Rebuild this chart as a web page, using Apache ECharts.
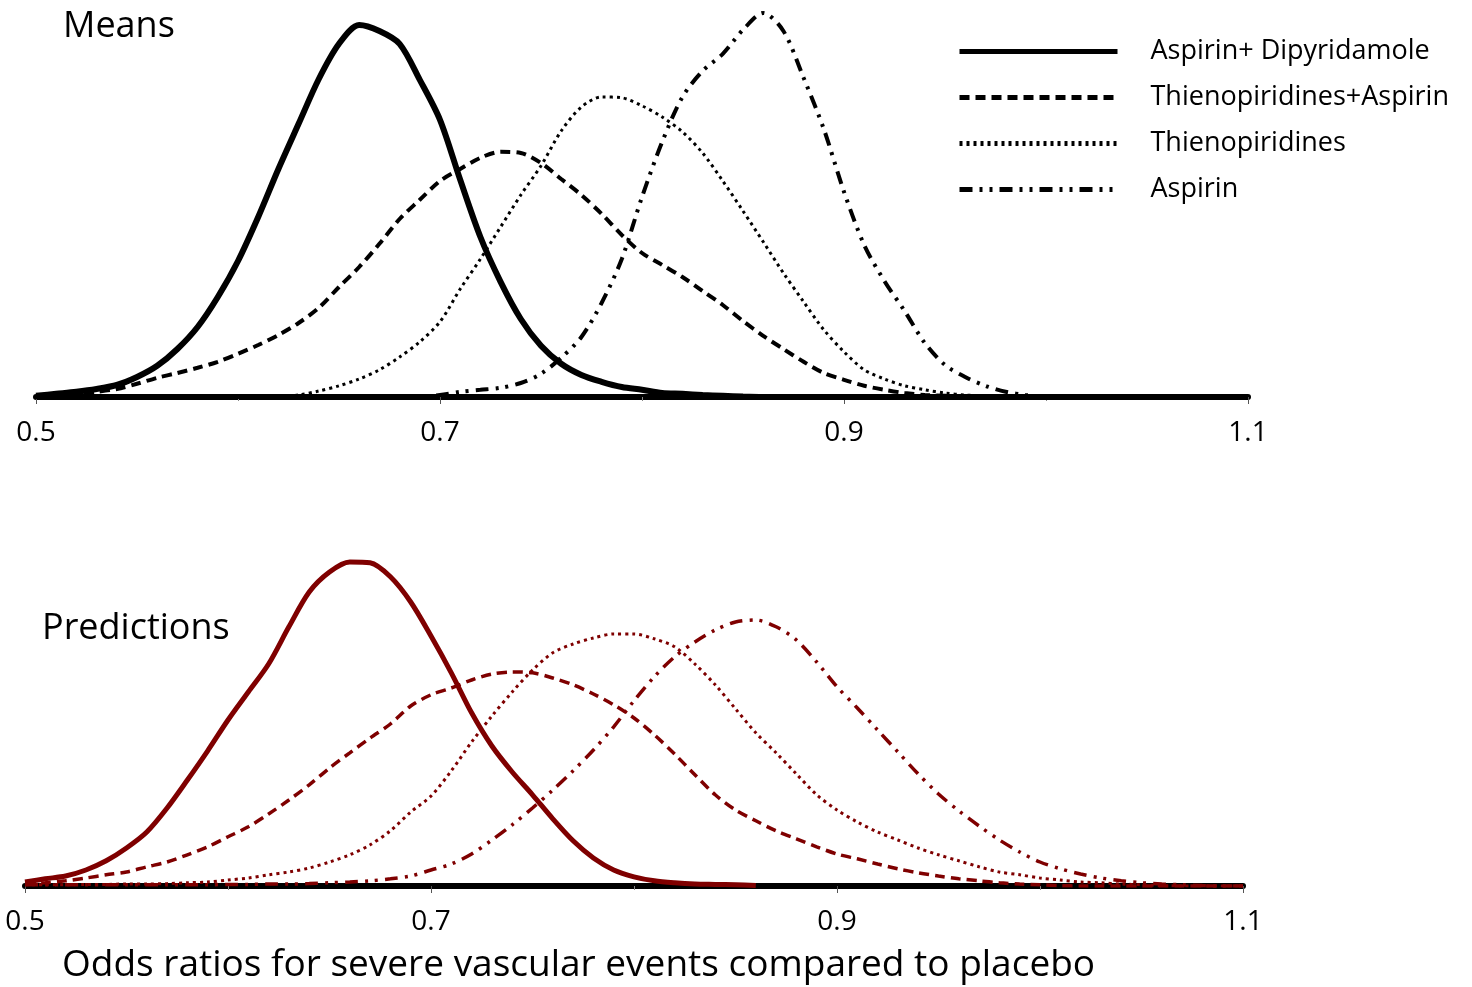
<!DOCTYPE html>
<html>
<head>
<meta charset="utf-8">
<script src="https://cdn.jsdelivr.net/npm/echarts@6/dist/echarts.min.js"></script>
<style>
  html, body { margin: 0; padding: 0; background: #fff; }
  #chart { width: 1472px; height: 987px; }
</style>
</head>
<body>
<div id="chart"></div>
<script>
// odds ratio grid, 0.50 .. 1.10 in steps of 0.01
var oddsRatio = Array.from({ length: 61 }, function (_, i) { return +(0.5 + i * 0.01).toFixed(2); });
var tickLabels = ['0.5', '0.7', '0.9', '1.1'];
var names = ['Aspirin+ Dipyridamole', 'Thienopiridines+Aspirin', 'Thienopiridines', 'Aspirin'];

// Means panel (density)
var meanAspDip = [0.03, 0.08, 0.13, 0.2, 0.3, 0.5, 0.78, 1.2, 1.75, 2.5, 3.4, 4.5, 5.7, 6.83, 7.95, 8.83, 9.3, 9.15, 8.83, 7.93,
  6.93, 5.43, 4.0, 2.88, 1.95, 1.28, 0.83, 0.55, 0.38, 0.25, 0.18, 0.1, 0.08, 0.05, 0.03, 0.01,
  0, 0, 0, 0, 0, 0, 0, 0, 0, 0, 0, 0, 0, 0, 0, 0, 0, 0, 0, 0, 0, 0, 0, 0, 0];
var meanThienAsp = [0.03, 0.05, 0.08, 0.13, 0.2, 0.33, 0.48, 0.6, 0.73, 0.88, 1.08, 1.3, 1.55, 1.85, 2.23, 2.75, 3.25, 3.83, 4.45, 4.93,
  5.4, 5.7, 5.98, 6.13, 6.1, 5.85, 5.45, 5.05, 4.58, 4.05, 3.6, 3.3, 3.0, 2.65, 2.3, 1.9, 1.53, 1.2, 0.88, 0.6,
  0.43, 0.28, 0.18, 0.1, 0.05, 0.03, 0.01, 0, 0, 0, 0, 0, 0, 0, 0, 0, 0, 0, 0, 0, 0];
var meanThien = [0, 0, 0, 0, 0, 0, 0, 0, 0, 0, 0, 0, 0,
  0.05, 0.15, 0.28, 0.45, 0.68, 1.0, 1.38, 1.88, 2.7, 3.45, 4.25, 5.05, 5.78, 6.65, 7.25, 7.5, 7.48, 7.28, 7.0, 6.63, 6.1, 5.4,
  4.65, 3.88, 3.1, 2.38, 1.68, 1.13, 0.68, 0.45, 0.28, 0.18, 0.1, 0.05, 0.03,
  0, 0, 0, 0, 0, 0, 0, 0, 0, 0, 0, 0, 0];
var meanAsp = [0, 0, 0, 0, 0, 0, 0, 0, 0, 0, 0, 0, 0, 0, 0, 0, 0, 0, 0,
  0.01, 0.05, 0.13, 0.18, 0.23, 0.35, 0.58, 0.98, 1.5, 2.35, 3.45, 5.0, 6.38, 7.5, 8.15, 8.58, 9.18, 9.6, 9.15, 7.98, 6.7,
  5.13, 3.8, 2.9, 2.15, 1.35, 0.8, 0.5, 0.28, 0.13, 0.05, 0.01,
  0, 0, 0, 0, 0, 0, 0, 0, 0, 0];

// Predictions panel
var predAspDip = [0.1, 0.18, 0.25, 0.4, 0.63, 0.95, 1.35, 1.95, 2.65, 3.38, 4.15, 4.85, 5.55, 6.48, 7.35, 7.85, 8.1, 8.08, 7.73, 7.1,
  6.25, 5.33, 4.33, 3.5, 2.85, 2.28, 1.68, 1.13, 0.7, 0.4, 0.23, 0.13, 0.08, 0.05, 0.04, 0.03, 0.01];
var predThienAsp = [0.05, 0.08, 0.13, 0.2, 0.28, 0.35, 0.48, 0.6, 0.78, 0.98, 1.23, 1.48, 1.8, 2.15, 2.53, 2.95, 3.33, 3.7, 4.05, 4.5,
  4.78, 4.95, 5.15, 5.3, 5.35, 5.33, 5.2, 5.03, 4.8, 4.53, 4.2, 3.78, 3.3, 2.78, 2.28, 1.9, 1.63, 1.38, 1.18, 0.98,
  0.8, 0.68, 0.55, 0.43, 0.33, 0.25, 0.18, 0.13, 0.08, 0.05, 0.03, 0.01, 0, 0, 0, 0, 0, 0, 0, 0, 0];
var predThien = [0.03, 0.03, 0.03, 0.04, 0.04, 0.05, 0.05, 0.06, 0.08, 0.1, 0.15, 0.2, 0.28, 0.35, 0.45, 0.6, 0.78, 1.03, 1.38, 1.85,
  2.25, 2.88, 3.6, 4.25, 4.85, 5.4, 5.83, 6.05, 6.2, 6.3, 6.3, 6.18, 5.98, 5.55, 5.03, 4.43, 3.83, 3.33, 2.8, 2.28,
  1.9, 1.6, 1.35, 1.15, 0.95, 0.78, 0.63, 0.48, 0.35, 0.28, 0.2, 0.15, 0.1, 0.08, 0.05, 0.03, 0.01, 0, 0, 0, 0];
var predAsp = [0.03, 0.03, 0.03, 0.03, 0.03, 0.03, 0.03, 0.03, 0.03, 0.03, 0.04, 0.04, 0.05, 0.05, 0.06, 0.08, 0.1, 0.13, 0.18, 0.25,
  0.4, 0.55, 0.8, 1.15, 1.53, 1.95, 2.4, 2.88, 3.4, 3.98, 4.63, 5.23, 5.73, 6.1, 6.4, 6.6, 6.65, 6.48, 6.15, 5.6,
  4.98, 4.45, 3.9, 3.35, 2.8, 2.3, 1.88, 1.5, 1.15, 0.85, 0.6, 0.43, 0.3, 0.2, 0.13, 0.08, 0.05, 0.03, 0.01, 0, 0];

var FONT = '"Open Sans", "Noto Sans", sans-serif';
var RED = '#7f0000';
var dashes = ['solid', [10, 6], [3, 4], [13, 7, 3, 7, 3, 7]];

function pairs(vals) {
    return vals.map(function (v, i) { return [oddsRatio[i], v]; });
}

function curve(name, vals, idx, color, style, width) {
    return {
        name: name,
        type: 'line',
        xAxisIndex: idx,
        yAxisIndex: idx,
        data: pairs(vals),
        smooth: 0.3,
        symbol: 'none',
        color: color,
        itemStyle: { color: color },
        lineStyle: { color: color, type: style, width: width }
    };
}

var xAxisCommon = {
    type: 'value',
    min: 0.5,
    max: 1.1,
    interval: 0.2,
    axisLine: { show: true, onZero: false, lineStyle: { color: '#000', width: 6 } },
    axisTick: { show: true, length: 7, lineStyle: { color: '#555', width: 1 } },
    minorTick: { show: true, splitNumber: 2, length: 4, lineStyle: { color: '#888' } },
    splitLine: { show: false },
    axisLabel: {
        fontFamily: FONT, fontSize: 28, color: '#000', margin: 22,
        formatter: function (v) { return tickLabels[Math.round((v - 0.5) / 0.2)]; }
    }
};

var chart = echarts.init(document.getElementById('chart'));

var option = {
    animation: false,
    backgroundColor: '#fff',
    title: [
        { text: 'Means', left: 58, top: 4, textStyle: { fontFamily: FONT, fontSize: 36, fontWeight: 'normal', color: '#000' } },
        { text: 'Predictions', left: 37, top: 606, textStyle: { fontFamily: FONT, fontSize: 36, fontWeight: 'normal', color: '#000' } },
        { text: 'Odds ratios for severe vascular events compared to placebo', left: 57, top: 942,
          textStyle: { fontFamily: FONT, fontSize: 37, fontWeight: 'normal', color: '#000' } }
    ],
    legend: {
        data: names,
        orient: 'vertical',
        left: 952,
        top: 33,
        itemWidth: 158,
        itemHeight: 24,
        itemGap: 19,
        itemStyle: { opacity: 0 },
        lineStyle: { width: 5 },
        textStyle: { fontFamily: FONT, fontSize: 27, color: '#000', lineHeight: 21, padding: [0, 0, 0, 28] }
    },
    grid: [
        { left: 36, right: 224, top: 1, bottom: 590 },
        { left: 25, right: 229, top: 486, bottom: 101 }
    ],
    xAxis: [
        Object.assign({ gridIndex: 0 }, xAxisCommon),
        Object.assign({ gridIndex: 1 }, xAxisCommon)
    ],
    yAxis: [
        { type: 'value', gridIndex: 0, min: 0, max: 9.9, show: false },
        { type: 'value', gridIndex: 1, min: 0, max: 10, show: false }
    ],
    series: [
        curve(names[0], meanAspDip, 0, '#000', dashes[0], 6),
        curve(names[1], meanThienAsp, 0, '#000', dashes[1], 4),
        curve(names[2], meanThien, 0, '#000', dashes[2], 3),
        curve(names[3], meanAsp, 0, '#000', dashes[3], 4),
        curve(names[0], predAspDip, 1, RED, dashes[0], 5),
        curve(names[1], predThienAsp, 1, RED, dashes[1], 3.5),
        curve(names[2], predThien, 1, RED, dashes[2], 3),
        curve(names[3], predAsp, 1, RED, dashes[3], 3.5)
    ]
};

chart.setOption(option);
</script>
</body>
</html>
